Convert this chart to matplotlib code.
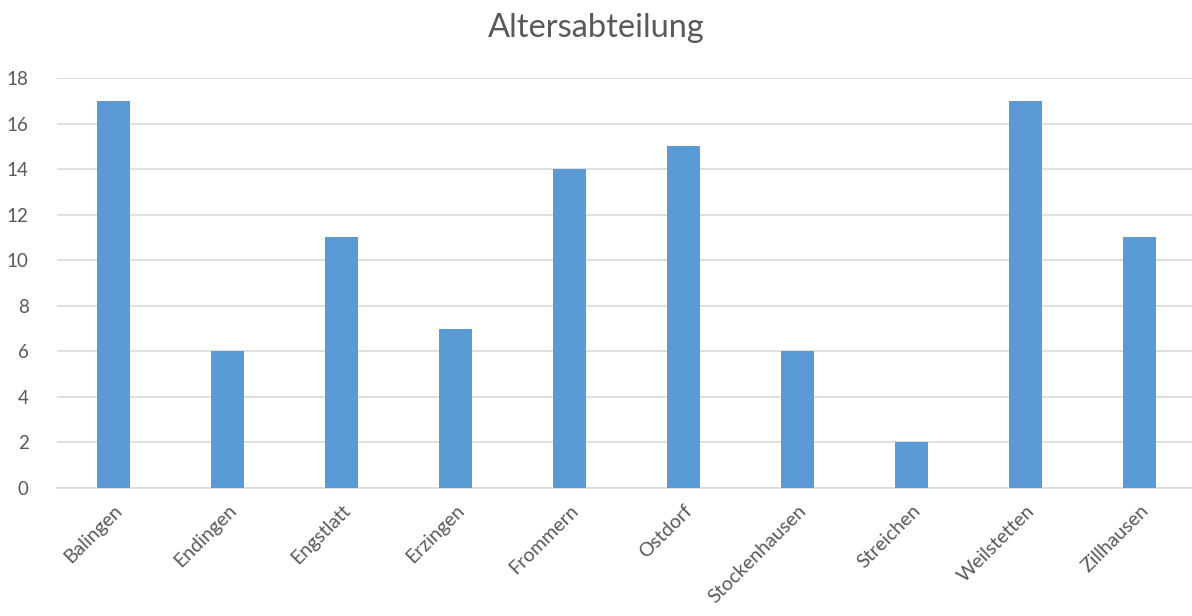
import matplotlib.pyplot as plt

# data
orte = ['Balingen', 'Endingen', 'Engstlatt', 'Erzingen', 'Frommern',
        'Ostdorf', 'Stockenhausen', 'Streichen', 'Weilstetten', 'Zillhausen']
anzahl = [17, 6, 11, 7, 14, 15, 6, 2, 17, 11]
y_ticks = [0, 2, 4, 6, 8, 10, 12, 14, 16, 18]

plt.rcParams['font.family'] = ['Lato', 'DejaVu Sans']

fig = plt.figure(figsize=(11.92, 6.16), dpi=100)
ax = fig.add_axes([56.5 / 1192, 1 - 488 / 616, 1140 / 1192, 410 / 616])

x = range(len(orte))
ax.bar(x, anzahl, width=0.29, color='#5B9BD5', zorder=3)

ax.set_xlim(-0.5, len(orte) - 0.5)
ax.set_ylim(0, 18)
ax.set_yticks(y_ticks)
ax.set_yticklabels([str(t) for t in y_ticks], fontsize=13.5, color='#595959')
ax.set_xticks(list(x))
ax.set_xticklabels(orte, rotation=45, ha='right', rotation_mode='anchor',
                   fontsize=14, color='#595959')
ax.tick_params(axis='both', length=0)
ax.tick_params(axis='y', pad=20)
ax.tick_params(axis='x', pad=10)

# gridlines
ax.grid(axis='y', color='#D9D9D9', linewidth=1.2, zorder=0)
for s in ['top', 'right', 'left']:
    ax.spines[s].set_visible(False)
ax.spines['bottom'].set_color('#D9D9D9')
ax.spines['bottom'].set_linewidth(1.2)

fig.text(0.5, 1 - 28 / 616, 'Altersabteilung', ha='center', va='center',
         fontsize=23.5, color='#595959')

fig.savefig('out.png', dpi=100)
